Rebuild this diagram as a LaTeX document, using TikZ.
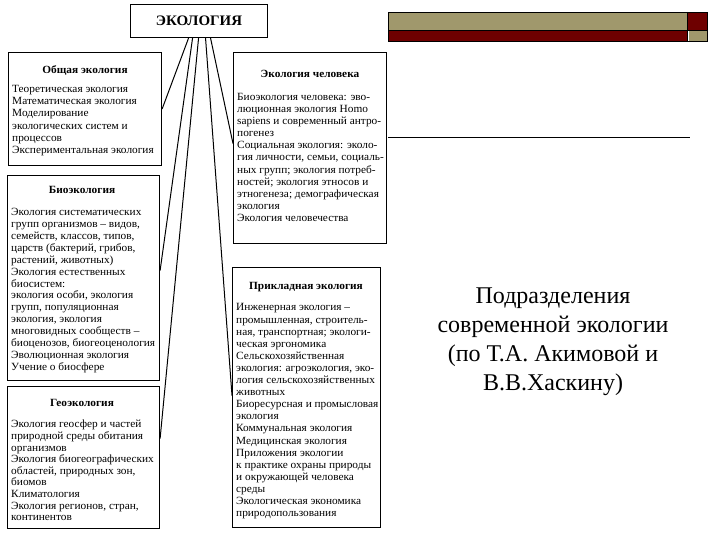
\documentclass[tikz,border=0pt]{standalone}
\usepackage{fontspec}
\setmainfont{Liberation Serif}
\newfontfamily\bodyfont[FakeStretch=1.03]{Liberation Serif}
\usetikzlibrary{calc}
\definecolor{barkhaki}{RGB}{160,152,108}
\definecolor{barred}{RGB}{110,0,0}
\tikzset{
  boxframe/.style={draw=black, line width=1.1pt, inner sep=0pt, anchor=north west},
  head/.style={font=\bodyfont\bfseries\fontsize{11}{12}\selectfont, inner sep=0pt},
  body/.style={font=\bodyfont\fontsize{11}{#1}\selectfont, align=left, inner sep=0pt, anchor=north west},
  conn/.style={line width=1pt},
}
\begin{document}
\begin{tikzpicture}[x=1pt,y=-1pt]
\useasboundingbox[fill=white] (0,0) rectangle (720,540);
% decorative bar
\fill[barkhaki] (388,12) rectangle (687,30);
\fill[barred] (687,12) rectangle (707,30);
\fill[barred] (388,30) rectangle (687,41);
\fill[barkhaki] (689,30) rectangle (707,41);
\draw[line width=0.6pt] (388,12) rectangle (707,41);
\draw[line width=0.6pt] (388,30) -- (707,30) (687,12) -- (687,41);
\draw[line width=1pt] (388,138) -- (690,138);

% main box
\node[boxframe, minimum width=137pt, minimum height=33pt,
      font=\bodyfont\bfseries\fontsize{14.5}{18}\selectfont] (eco) at (130,4) {ЭКОЛОГИЯ};

% boxes
\node[boxframe, minimum width=153pt, minimum height=113pt] (obsh) at (8,52) {};
\node[boxframe, minimum width=152pt, minimum height=205pt] (bio) at (7,175) {};
\node[boxframe, minimum width=152pt, minimum height=142pt] (geo) at (7,386) {};
\node[boxframe, minimum width=153pt, minimum height=191pt] (chel) at (233,52) {};
\node[boxframe, minimum width=148pt, minimum height=260pt] (prik) at (232,267) {};

% connectors
\draw[conn] ([xshift=-10.5pt]eco.south) -- (obsh.east);
\draw[conn] ([xshift=-6.5pt]eco.south) -- ([yshift=7.5pt]bio.east);
\draw[conn] ([xshift=-0.5pt]eco.south) -- ([yshift=19pt]geo.east);
\draw[conn] ([xshift=6.5pt]eco.south) -- ([yshift=2pt]prik.west);
\draw[conn] ([xshift=11.5pt]eco.south) -- ([yshift=4.5pt]chel.west);

% Общая экология
\node[head] (obshh) at (85,71) {Общая экология};
\node[body=12.2] (obshb) at (12,85) {Теоретическая экология\\Математическая экология\\Моделирование\\экологических систем и\\процессов\\Экспериментальная экология};

% Биоэкология
\node[head] (bioh) at (82,190) {Биоэкология};
\node[body=11.85] (biob) at (11,208.5) {Экология систематических\\групп организмов – видов,\\семейств, классов, типов,\\царств (бактерий, грибов,\\растений, животных)\\Экология естественных\\биосистем:\\экология особи, экология\\групп, популяционная\\экология, экология\\многовидных сообществ –\\биоценозов, биогеоценология\\Эволюционная экология\\Учение о биосфере};

% Геоэкология
\node[head] (geoh) at (82,403) {Геоэкология};
\node[body=11.6] (geob) at (11,420) {Экология геосфер и частей\\природной среды обитания\\организмов\\Экология биогеографических\\областей, природных зон,\\биомов\\Климатология\\Экология регионов, стран,\\континентов};

% Экология человека
\node[head] (chelh) at (310,74) {Экология человека};
\node[body=12.1] (chelb) at (237,93) {Биоэкология человека: эво-\\люционная экология Homo\\sapiens и современный антро-\\погенез\\Социальная экология: эколо-\\гия личности, семьи, социаль-\\ных групп; экология потреб-\\ностей; экология этносов и\\этногенеза; демографическая\\экология\\Экология человечества};

% Прикладная экология
\node[head] (prikh) at (306,287) {Прикладная экология};
\node[body=12.1] (prikb) at (236,303.5) {Инженерная экология –\\промышленная, строитель-\\ная, транспортная; экологи-\\ческая эргономика\\Сельскохозяйственная\\экология: агроэкология, эко-\\логия сельскохозяйственных\\животных\\Биоресурсная и промысловая\\экология\\Коммунальная экология\\Медицинская экология\\Приложения экологии\\к практике охраны природы\\и окружающей человека\\среды\\Экологическая экономика\\природопользования};

% title
\node[font=\fontsize{24}{29}\selectfont, align=center, inner sep=0pt] (title) at (553,342) {Подразделения\\современной экологии\\(по Т.А. Акимовой и\\В.В.Хаскину)};
\end{tikzpicture}
\end{document}
